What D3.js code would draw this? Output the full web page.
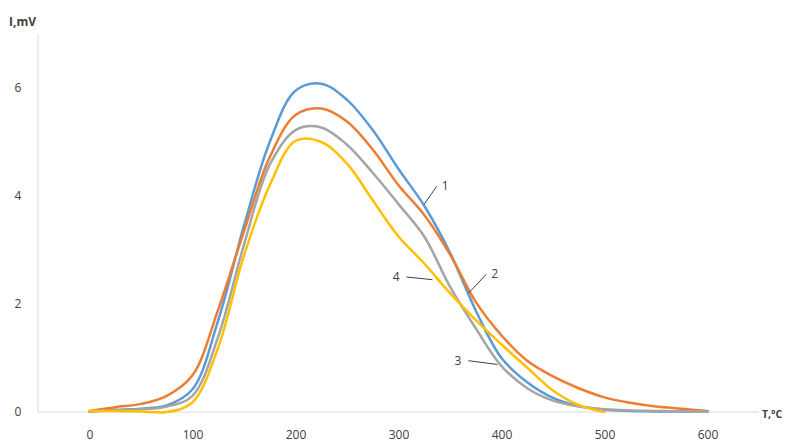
<!DOCTYPE html>
<html>
<head>
<meta charset="utf-8">
<script src="https://cdn.jsdelivr.net/npm/d3@7/dist/d3.min.js"></script>
<style>
  html, body { margin: 0; padding: 0; background: #fff; }
  svg { display: block; }
  text { font-family: "Open Sans", "Liberation Sans", sans-serif; }
</style>
</head>
<body>
<svg id="chart" width="785" height="445"></svg>
<script>
// ---- data ----
const temps = [0,25,50,75,100,125,150,175,200,225,250,275,300,325,350,375,400,425,450,475,500,525,550,575,600];
const series1 = [0.01,0.04,0.06,0.12,0.42,1.70,3.45,5.00,5.95,6.08,5.78,5.22,4.50,3.82,2.95,1.88,1.00,0.55,0.26,0.11,0.04,0.02,0.01,0.01,0.01];
const series2 = [0.02,0.09,0.15,0.30,0.68,1.90,3.35,4.72,5.50,5.62,5.38,4.86,4.20,3.65,2.92,2.04,1.42,0.95,0.66,0.44,0.27,0.17,0.10,0.06,0.02];
const series3 = [0.01,0.03,0.05,0.10,0.30,1.40,3.10,4.58,5.22,5.27,4.95,4.43,3.85,3.25,2.32,1.55,0.85,0.44,0.21,0.10,0.05,0.03,0.02,0.01,0.01];
const series4 = [0.02,0.02,0.01,0.00,0.18,1.20,2.90,4.20,5.02,5.00,4.60,3.92,3.25,2.75,2.20,1.70,1.25,0.82,0.40,0.13,0.00];
const seriesNames = ["1","2","3","4"];
const seriesColors = ["#5b9bd5","#ed7d31","#a5a5a5","#ffc000"];
const xTicks = [0,100,200,300,400,500,600];
const yTicks = [0,2,4,6];
// label annotations: [curve point T, I], [label T, I]
const labelPoints = [[325,3.85],[368,2.2],[396,0.88],[333,2.45]];
const labelPos = [[342,4.18],[390,2.55],[362,0.95],[302,2.5]];

// ---- layout ----
const svg = d3.select("#chart");
const x = d3.scaleLinear().domain([-50,650]).range([38,759]);
const y = d3.scaleLinear().domain([0,7]).range([412,34]);

// axes lines
svg.append("line").attr("x1",x(-50)).attr("x2",x(650)).attr("y1",y(0)).attr("y2",y(0))
  .attr("stroke","#d9d9d9").attr("stroke-width",1);
svg.append("line").attr("x1",x(-50)).attr("x2",x(-50)).attr("y1",y(0)).attr("y2",y(7))
  .attr("stroke","#d9d9d9").attr("stroke-width",1);

// x tick labels
const xAxis = d3.axisBottom(x).tickValues(xTicks).tickSize(0).tickPadding(0).tickFormat(d3.format("d"));
const gx = svg.append("g").attr("transform","translate(0,430)").call(xAxis);
gx.select(".domain").remove();
gx.selectAll("text").attr("font-size",12).attr("fill","#404040")
  .style("font-family","'Open Sans', sans-serif");

// y tick labels
const yAxis = d3.axisLeft(y).tickValues(yTicks).tickSize(0).tickPadding(0).tickFormat(d3.format("d"));
const gy = svg.append("g").attr("transform","translate(18,0)").call(yAxis);
gy.select(".domain").remove();
gy.selectAll("text").attr("font-size",12).attr("fill","#404040").attr("text-anchor","middle")
  .style("font-family","'Open Sans', sans-serif");

// axis titles
svg.append("text").attr("x",9).attr("y",26).attr("font-size",12).attr("font-weight","bold")
  .attr("fill","#404040").text("I,mV");
svg.append("text").attr("x",762).attr("y",418).attr("font-size",10.5).attr("font-weight","bold")
  .attr("fill","#404040").text("T,°C");

// curves
const allSeries = [series1, series2, series3, series4];
const line = d3.line().x(d => x(d[0])).y(d => y(Math.max(0, d[1]))).curve(d3.curveCatmullRom.alpha(0.5));
allSeries.forEach((s, i) => {
  const pts = s.map((v, j) => [temps[j], v]);
  svg.append("path").datum(pts).attr("d", line)
    .attr("fill","none").attr("stroke",seriesColors[i]).attr("stroke-width",2.5)
    .attr("stroke-linejoin","round").attr("stroke-linecap","round");
});

// annotations
labelPoints.forEach((p, i) => {
  const l = labelPos[i];
  const px = x(p[0]), py = y(p[1]);
  const lx = x(l[0]), ly = y(l[1]);
  const right = lx > px;
  svg.append("line")
    .attr("x1", px).attr("y1", py)
    .attr("x2", right ? lx - 5 : lx + 6).attr("y2", ly)
    .attr("stroke","#404040").attr("stroke-width",1);
  svg.append("text").attr("x", right ? lx : lx - 1).attr("y", ly + 4)
    .attr("text-anchor", right ? "start" : "end")
    .attr("font-size",12).attr("fill","#404040").text(seriesNames[i]);
});
</script>
</body>
</html>
